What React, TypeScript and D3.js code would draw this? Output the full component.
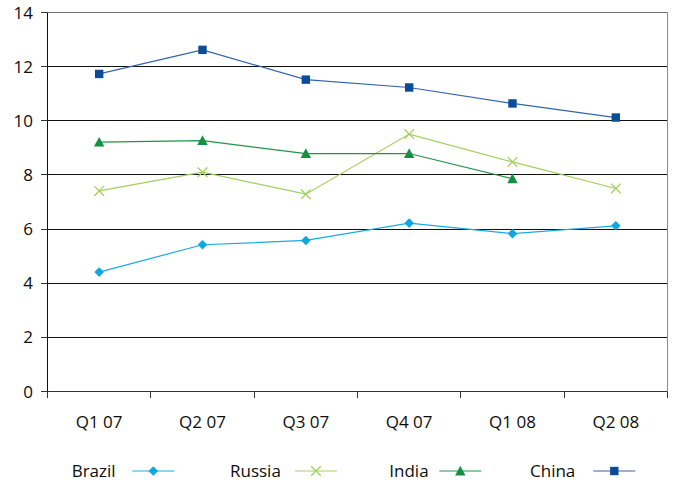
import React from "react";
import * as d3 from "d3";

// Quarterly values per country
const quarters = ["Q1 07", "Q2 07", "Q3 07", "Q4 07", "Q1 08", "Q2 08"];
const brazil = [4.41, 5.42, 5.58, 6.22, 5.83, 6.12];
const russia = [7.41, 8.1, 7.29, 9.51, 8.48, 7.5];
const india = [9.21, 9.27, 8.79, 8.79, 7.86];
const china = [11.73, 12.62, 11.52, 11.23, 10.64, 10.12];
const yTicks = [0, 2, 4, 6, 8, 10, 12, 14];
const seriesNames = ["Brazil", "Russia", "India", "China"];

const W = 675;
const H = 482;
const plot = { left: 47.5, right: 667.5, top: 12.5, bottom: 391.5 };
const FONT = "'Open Sans', 'Noto Sans', sans-serif";
const TEXT = "#0d0d0d";

type Shape = "diamond" | "cross" | "triangle" | "square";
const seriesStyle: { line: string; mark: string; shape: Shape }[] = [
  { line: "#1aa9e2", mark: "#12a6e0", shape: "diamond" },
  { line: "#a3cf5e", mark: "#a3cf5e", shape: "cross" },
  { line: "#22944a", mark: "#149140", shape: "triangle" },
  { line: "#3464ab", mark: "#0c4b96", shape: "square" },
];
const seriesData = [brazil, russia, india, china];

// Legend layout: text start and line start for each entry
const legendText = [71.7, 230, 389.3, 530];
const legendLine = [132.3, 295, 439.3, 593.3];
const legendY = 471;

// snap a coordinate to the pixel grid for crisp 1px lines
const crisp = (v: number) => Math.round(v - 0.5) + 0.5;

function Marker({ shape, x, y, color }: { shape: Shape; x: number; y: number; color: string }) {
  if (shape === "diamond") {
    const r = 4.8;
    return <path d={`M${x},${y - r}L${x + r},${y}L${x},${y + r}L${x - r},${y}Z`} fill={color} />;
  }
  if (shape === "square") {
    return <rect x={x - 4.2} y={y - 4.2} width={8.4} height={8.4} fill={color} />;
  }
  if (shape === "triangle") {
    const s = 5.2;
    return <path d={`M${x},${y - s}L${x + s},${y + s * 0.85}L${x - s},${y + s * 0.85}Z`} fill={color} />;
  }
  const r = 4.8;
  return (
    <path
      d={`M${x - r},${y - r}L${x + r},${y + r}M${x - r},${y + r}L${x + r},${y - r}`}
      stroke={color}
      strokeWidth={1.3}
      fill="none"
    />
  );
}

export default function App() {
  const x = d3.scaleBand<string>().domain(quarters).range([plot.left, plot.right]).padding(0);
  const y = d3.scaleLinear().domain([0, 14]).range([plot.bottom, plot.top]);
  const cx = (q: string) => (x(q) as number) + x.bandwidth() / 2;

  const line = d3
    .line<[number, number]>()
    .x((d) => d[0])
    .y((d) => d[1]);

  const xTickPositions = [...quarters.map((q) => x(q) as number), plot.right];

  return (
    <svg
      width={W}
      height={H}
      style={{ position: "absolute", left: 0, top: 0, background: "#fff" }}
      fontFamily={FONT}
    >
      {/* gridlines */}
      {yTicks.map((t) => (
        <line
          key={t}
          x1={plot.left}
          x2={plot.right}
          y1={crisp(y(t))}
          y2={crisp(y(t))}
          stroke={t === 14 ? "#707070" : t === 0 ? "#333" : "#111"}
          strokeWidth={1}
        />
      ))}
      {/* right border */}
      <line x1={plot.right} x2={plot.right} y1={plot.top} y2={plot.bottom} stroke="#8a8a8a" />
      {/* y axis */}
      <line x1={plot.left} x2={plot.left} y1={plot.top} y2={plot.bottom + 6.5} stroke="#111" />
      {yTicks.map((t) => (
        <g key={t}>
          <line x1={plot.left - 6.5} x2={plot.left} y1={crisp(y(t))} y2={crisp(y(t))} stroke="#333" />
          <text
            x={33}
            y={y(t)}
            dy="0.36em"
            textAnchor="end"
            fontSize={17}
            fill={TEXT}
          >
            {t}
          </text>
        </g>
      ))}
      {/* x axis ticks and labels */}
      {xTickPositions.map((p, i) => (
        <line key={i} x1={crisp(p)} x2={crisp(p)} y1={plot.bottom} y2={plot.bottom + 6.5} stroke="#333" />
      ))}
      {quarters.map((q) => (
        <text key={q} x={cx(q)} y={427.5} textAnchor="middle" fontSize={17} fill={TEXT}>
          {q}
        </text>
      ))}

      {/* series */}
      {seriesData.map((vals, si) => {
        const pts: [number, number][] = vals.map((v, i) => [cx(quarters[i]), y(v)]);
        const st = seriesStyle[si];
        return (
          <g key={si}>
            <path d={line(pts) || ""} fill="none" stroke={st.line} strokeWidth={1.2} />
            {pts.map((p, i) => (
              <Marker key={i} shape={st.shape} x={p[0]} y={p[1]} color={st.mark} />
            ))}
          </g>
        );
      })}

      {/* legend */}
      {seriesNames.map((name, i) => {
        const st = seriesStyle[i];
        const l0 = legendLine[i];
        return (
          <g key={name}>
            <text x={legendText[i]} y={legendY + 4} dy="0.12em" fontSize={17} fill={TEXT}>
              {name}
            </text>
            <line x1={l0} x2={l0 + 42} y1={legendY} y2={legendY} stroke={st.line} strokeWidth={1.2} />
            <Marker shape={st.shape} x={l0 + 21} y={legendY} color={st.mark} />
          </g>
        );
      })}
    </svg>
  );
}
